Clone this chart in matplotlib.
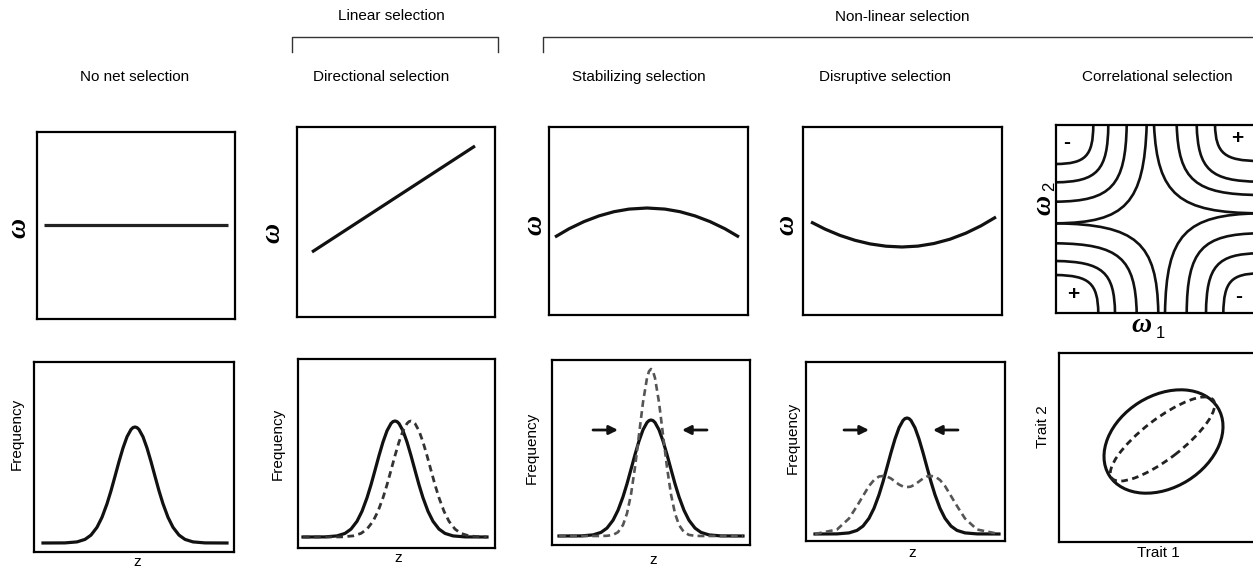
import numpy as np
import matplotlib.pyplot as plt
from matplotlib.path import Path
from matplotlib.patches import PathPatch, Ellipse
from matplotlib.lines import Line2D

plt.rcParams['font.family'] = ['Liberation Sans', 'DejaVu Sans']

W, H = 1253, 567

# ---- data (pixel units inside each panel) ----
col_titles = ['No net selection', 'Directional selection', 'Stabilizing selection',
              'Disruptive selection', 'Correlational selection']
group_titles = ['Linear selection', 'Non-linear selection']

# top row: fitness (w) against z
flat_x = [7, 191]
flat_y = [94, 94]
dir_x = [15, 178]
dir_y = [65, 171]
stab_x = [6, 20, 35, 50, 65, 80, 98, 116, 131, 146, 161, 176, 190]
stab_y = [78, 86.2, 93.4, 99.1, 103.3, 105.9, 107, 105.9, 103.3, 99.1, 93.4, 86.2, 78]
disr_x = [8, 22, 37, 52, 67, 83, 99, 115, 131, 147, 163, 178, 193]
disr_y = [93, 85.9, 79.6, 74.7, 71.1, 68.8, 68, 68.9, 71.5, 75.8, 81.9, 89.2, 98]

# bottom row: frequency distributions (z offset from the mean, height above baseline)
z = [-92, -70, -58, -50, -44, -38, -33, -28, -24, -20, -16, -12, -8, -4, -2, 0,
     2, 4, 8, 12, 16, 20, 24, 28, 33, 38, 44, 50, 58, 70, 92]
freq_before = [0, 0.1, 1.1, 3.6, 7.9, 15.7, 25.7, 39.2, 52.2, 66.7, 81.4, 95.0, 106.2,
               113.5, 115.4, 116, 115.4, 113.5, 106.2, 95.0, 81.4, 66.7, 52.2, 39.2,
               25.7, 15.7, 7.9, 3.6, 1.1, 0.1, 0]
z_shifted = [-92, -54, -42, -34, -28, -22, -17, -12, -8, -4, 0, 4, 8, 12, 14, 16,
             18, 20, 24, 28, 32, 36, 40, 44, 49, 54, 60, 66, 74, 86, 92]
freq_stab_after = [0, 0, 0, 0, 0.2, 1.1, 3.8, 11.0, 22.6, 41.6, 68.7, 101.3, 133.7,
                   158.0, 164.7, 167, 164.7, 158.0, 133.7, 101.3, 68.7, 41.6, 22.6,
                   11.0, 3.8, 1.1, 0.2, 0, 0, 0, 0]
freq_disr_after = [0, 4.5, 15.5, 28, 38, 48, 54, 57.5, 58, 57.5, 55.5, 52.5, 49.5,
                   47.5, 47.1, 47, 47.1, 47.5, 49.5, 52.5, 55.5, 57.5, 58, 57.5, 54,
                   48, 38, 28, 15.5, 4.5, 0]

# arrows (tail x, head x, y) in data units of the stabilizing / disruptive panels
stab_arrows = [(-58, -33, 106), (56, 31, 106)]
disr_arrows = [(-63, -38, 104), (51, 26, 104)]

# correlational surface: contour lines as (start, corner, end)
contours = [
    ((37.3, 188), (37, 149.3), (0, 149)),
    ((52.3, 188), (51.7, 131.3), (0, 130.7)),
    ((70.7, 188), (69.3, 112), (0, 111.3)),
    ((90.7, 188), (87.3, 90.3), (0, 89.7)),
    ((159, 188), (160, 152.3), (203, 152)),
    ((140.7, 188), (142.3, 132), (203, 131.3)),
    ((120.7, 188), (123, 118.7), (203, 118)),
    ((98, 188), (102.3, 100.3), (203, 99.7)),
    ((0, 38), (41.7, 37.3), (42.3, 0)),
    ((0, 52), (58.3, 51), (59, 0)),
    ((0, 69.7), (79, 68.7), (80.7, 0)),
    ((0, 89.7), (100.7, 88), (102.3, 0)),
    ((203, 99.7), (110.7, 98), (109, 0)),
    ((203, 79.7), (131.3, 78.7), (130.7, 0)),
    ((203, 59.7), (150.7, 59), (150, 0)),
    ((203, 39.7), (168, 39), (167.3, 0)),
]
signs = [('-', 11, 171), ('+', 181, 174), ('+', 17, 18), ('-', 183, 16)]

# trait covariance ellipses: centre, width, height, angle
ell_before = ((104.5, 100.5), 128, 92, 32)
ell_after = ((103.5, 103), 128, 40, 37.5)

# ---- figure ----
fig = plt.figure(figsize=(W / 100, H / 100), dpi=100)


def panel(x0, y0, x1, y1, xlim=None, ylim=None):
    ax = fig.add_axes([x0 / W, 1 - y1 / H, (x1 - x0) / W, (y1 - y0) / H])
    ax.set_xticks([])
    ax.set_yticks([])
    for s in ax.spines.values():
        s.set_linewidth(1.6)
    ax.set_xlim(xlim if xlim else (0, x1 - x0))
    ax.set_ylim(ylim if ylim else (0, y1 - y0))
    return ax


def ftext(x, y, s, **kw):
    kw.setdefault('fontsize', 11)
    fig.text(x / W, 1 - y / H, s, ha='center', va='center', **kw)


def omega(x, y, size=20, rot=90):
    fig.text(x / W, 1 - y / H, '\u03c9', ha='center', va='center', rotation=rot,
             fontsize=size, family='Liberation Serif', style='italic', weight='bold')


LW = 2.3

# top row
ax = panel(37, 132, 235, 319)
ax.plot(flat_x, flat_y, color='#222222', lw=LW, solid_capstyle='butt')
ax = panel(297, 127, 495, 317)
ax.plot(dir_x, dir_y, color='#111111', lw=LW, solid_capstyle='butt')
ax = panel(549, 127, 748, 315)
ax.plot(stab_x, stab_y, color='#111111', lw=LW, solid_capstyle='butt')
ax = panel(803, 127, 1002, 315)
ax.plot(disr_x, disr_y, color='#111111', lw=LW, solid_capstyle='butt')

ax = panel(1056, 125, 1259, 313)
for p0, c, p3 in contours:
    f = 0.8
    p1 = (p0[0] + f * (c[0] - p0[0]), p0[1] + f * (c[1] - p0[1]))
    p2 = (p3[0] + f * (c[0] - p3[0]), p3[1] + f * (c[1] - p3[1]))
    path = Path([p0, p1, p2, p3], [Path.MOVETO, Path.CURVE4, Path.CURVE4, Path.CURVE4])
    ax.add_patch(PathPatch(path, fill=False, lw=1.9, ec='#111111', clip_on=True))
for s, sx, sy in signs:
    ax.text(sx, sy, s, ha='center', va='center', fontsize=15, weight='bold')

# bottom row
ax = panel(34, 362, 234, 552, xlim=(-101, 99), ylim=(-9, 181))
ax.plot(z, freq_before, color='#111111', lw=LW)

ax = panel(298, 359, 495, 548, xlim=(-97, 100), ylim=(-11, 178))
ax.plot(z, freq_before, color='#111111', lw=LW)
ax.plot(z_shifted, freq_before, color='#333333', lw=2.0, ls=(0, (2.4, 1.6)))

ax = panel(552, 360, 750, 545, xlim=(-99, 99), ylim=(-9, 176))
ax.plot(z, freq_before, color='#111111', lw=LW)
ax.plot(z, freq_stab_after, color='#555555', lw=1.9, ls=(0, (2.6, 1.6)))
for x0, x1, y in stab_arrows:
    ax.annotate('', xy=(x1, y), xytext=(x0, y),
                arrowprops=dict(arrowstyle='-|>', lw=2, color='#111111', mutation_scale=13,
                                shrinkA=0, shrinkB=0))

ax = panel(806, 362, 1005, 541, xlim=(-101, 98), ylim=(-7, 172))
ax.plot(z, freq_before, color='#111111', lw=LW)
ax.plot(z, freq_disr_after, color='#555555', lw=1.9, ls=(0, (2.6, 1.6)))
for x0, x1, y in disr_arrows:
    ax.annotate('', xy=(x1, y), xytext=(x0, y),
                arrowprops=dict(arrowstyle='-|>', lw=2, color='#111111', mutation_scale=13,
                                shrinkA=0, shrinkB=0))

ax = panel(1059, 353, 1259, 542)
c, w, h, a = ell_before
ax.add_patch(Ellipse(c, w, h, angle=a, fill=False, lw=2.2, ec='#111111'))
c, w, h, a = ell_after
ax.add_patch(Ellipse(c, w, h, angle=a, fill=False, lw=2.0, ec='#222222', ls=(0, (2.4, 1.6))))

# header brackets
for xs, ys in [([292, 292, 498, 498], [52, 37, 37, 52]), ([543, 543, 1253], [52, 37, 37])]:
    fig.add_artist(Line2D([x / W for x in xs], [1 - y / H for y in ys],
                          color='#333333', lw=1.0))
ftext(391, 16, group_titles[0])
ftext(902, 17, group_titles[1])

for x, t in zip([135, 381, 639, 885, 1157], col_titles):
    ftext(x, 77, t)

# axis labels
omega(19, 228)
omega(273, 233)
omega(535, 225)
omega(787, 225)
omega(1044, 205)
ftext(1050, 186, '2', rotation=90, fontsize=12)
omega(1141, 326, rot=0)
ftext(1160, 333, '1', fontsize=12)

for x, y in [(17, 434), (278, 444), (532, 448), (793, 438)]:
    ftext(x, y, 'Frequency', rotation=90)
for x, y in [(137, 562), (398, 558), (653, 560), (912, 553)]:
    ftext(x, y, 'z')
ftext(1043, 427, 'Trait 2', rotation=90)
ftext(1158, 553, 'Trait 1')

fig.savefig('out.png', dpi=100)
